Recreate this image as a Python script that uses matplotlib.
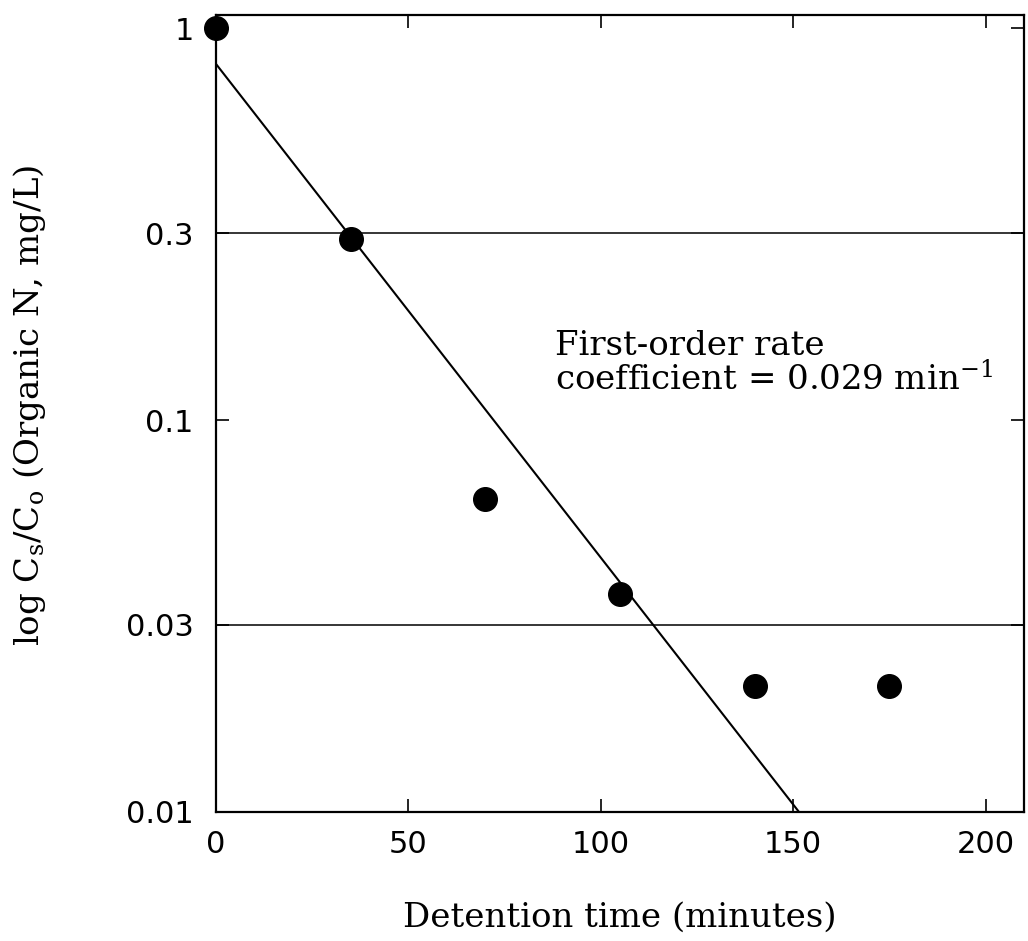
import numpy as np
import matplotlib
matplotlib.use("Agg")
import matplotlib.pyplot as plt

# detention time (min) and measured Cs/Co
time_min = [0, 35, 70, 105, 140, 175]
conc_ratio = [1.0, 0.29, 0.063, 0.036, 0.021, 0.021]

# first-order fit
fit_c0 = 0.81
fit_k = 0.029

ref_lines = [0.3, 0.03]
x_ticks = [0, 50, 100, 150, 200]
y_ticks = [0.01, 0.03, 0.1, 0.3, 1]
y_tick_labels = ["0.01", "0.03", "0.1", "0.3", "1"]

plt.rcParams["mathtext.default"] = "regular"
serif = "DejaVu Serif"
sans = "DejaVu Sans"

fig = plt.figure(figsize=(10.28, 9.41), dpi=100)
ax = fig.add_axes([0.2101, 0.1371, 0.7860, 0.8470])

ax.set_yscale("log")
ax.set_xlim(0, 210)
ax.set_ylim(0.01, 1.08)

for yv in ref_lines:
    ax.axhline(yv, color="black", lw=1.1)

xf = np.linspace(0, 210, 200)
ax.plot(xf, fit_c0 * np.exp(-fit_k * xf), color="black", lw=1.5)

ax.plot(time_min, conc_ratio, "o", color="black", ms=17, clip_on=False, zorder=5)

ax.set_xticks(x_ticks)
ax.set_xticklabels([str(v) for v in x_ticks])
ax.set_yticks(y_ticks)
ax.set_yticklabels(y_tick_labels)
ax.minorticks_off()
ax.tick_params(direction="in", length=9.5, width=1.2, top=True, right=True,
               labelsize=22)
ax.tick_params(axis="x", pad=13)
ax.tick_params(axis="y", pad=16)
for lab in ax.get_xticklabels() + ax.get_yticklabels():
    lab.set_fontfamily(sans)
for sp in ax.spines.values():
    sp.set_linewidth(1.6)

ax.set_xlabel("Detention time (minutes)", family=serif, fontsize=24.5)
ax.xaxis.set_label_coords(0.5, -0.113)
ax.set_ylabel("log C$_s$/C$_o$ (Organic N, mg/L)", family=serif, fontsize=24.5)
ax.yaxis.set_label_coords(-0.208, 0.51)

ax.text(88, 0.1466, "First-order rate", family=serif, fontsize=24.5)
ax.text(88, 0.119, "coefficient = 0.029 min$^{-1}$", family=serif, fontsize=24.5)

fig.savefig("out.png", dpi=100)
